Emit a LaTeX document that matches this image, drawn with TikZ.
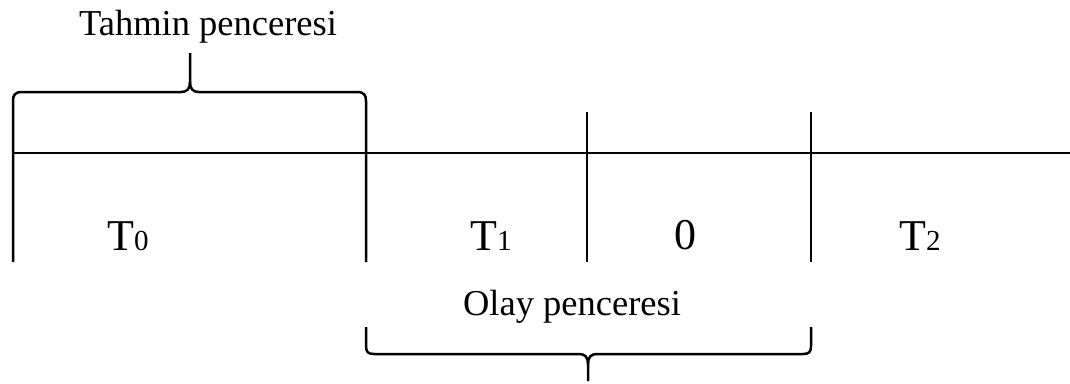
\documentclass[tikz,border=0pt]{standalone}
\usepackage{fontspec}
\setmainfont{Liberation Serif}
\begin{document}
\begin{tikzpicture}[x=1pt,y=-1pt,
  ln/.style={line width=2.5pt,line cap=butt,line join=round},
  wlabel/.style={anchor=base,inner sep=0pt,font=\fontsize{36.5}{36.5}\selectfont},
  tlabel/.style={anchor=base,inner sep=0pt,font=\fontsize{44}{44}\selectfont}]
\useasboundingbox (0,0) rectangle (1070,383);
% coordinates
\coordinate (a) at (13,153);
\coordinate (e) at (1070,153);
% time axis
\draw[ln] (a) -- (e);
% ticks
\draw[ln] (587,112) -- (587,262);
\draw[ln] (811,112) -- (811,262);
% top brace (its ends run down as ticks)
\draw[ln] (13,262) -- (13,101) .. controls (13,95) and (15,92) .. (22,92) -- (181,92)
  .. controls (187,92) and (190,89) .. (190,82) -- (190,53);
\draw[ln] (190,82) .. controls (190,89) and (193,92) .. (199,92) -- (357,92)
  .. controls (364,92) and (366,95) .. (366,101) -- (366,262);
% bottom brace
\draw[ln] (366,327) -- (366,346) .. controls (366,352) and (368,354) .. (374,354) -- (579,354)
  .. controls (585,354) and (588,357) .. (588,364) -- (588,381);
\draw[ln] (588,364) .. controls (588,357) and (591,354) .. (597,354) -- (803,354)
  .. controls (809,354) and (811,352) .. (811,346) -- (811,327);
% labels
\node[wlabel] (tahmin) at (208,35) {Tahmin penceresi};
\node[wlabel] (olay) at (572,315) {Olay penceresi};
\node[tlabel] (t0) at (128,250) {T{\fontsize{29}{29}\selectfont 0}};
\node[tlabel] (t1) at (491,250) {T{\fontsize{29}{29}\selectfont 1}};
\node[tlabel] (zero) at (685,249) {0};
\node[tlabel] (t2) at (920,250) {T{\fontsize{29}{29}\selectfont 2}};
\end{tikzpicture}
\end{document}
